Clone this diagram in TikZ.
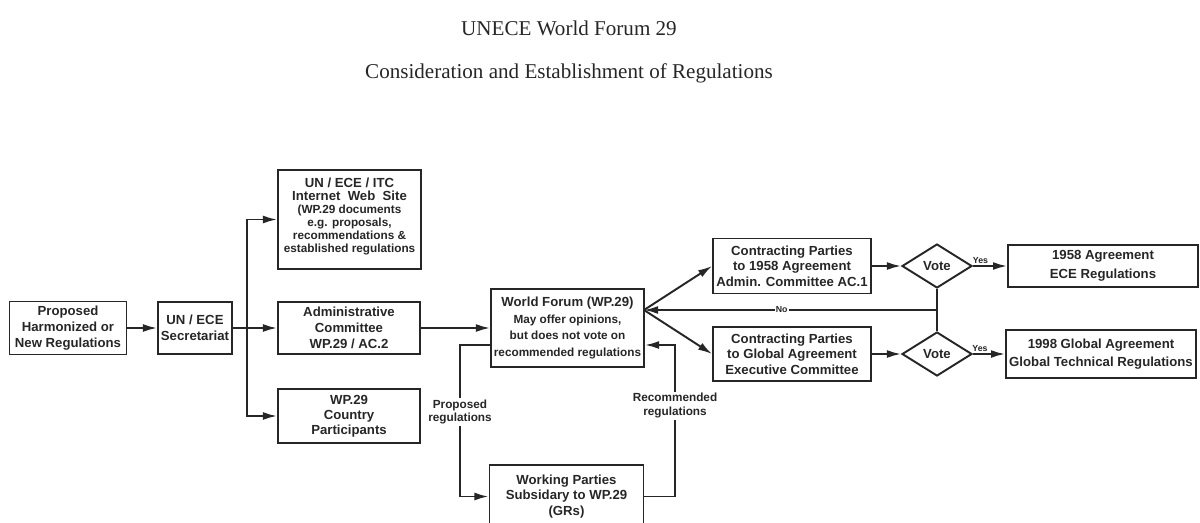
\documentclass[tikz,border=0pt]{standalone}
\usepackage{fontspec}
\setmainfont{Liberation Serif}
\setsansfont{Liberation Sans}
\usepackage{tikz}
\usetikzlibrary{arrows.meta,positioning,shapes.geometric}
\tikzset{>=latex}
\usepackage{xcolor}
\colorlet{myink}{black!85}
\newcommand{\subtxt}{\fontsize{6.7}{7.2}\selectfont}
\tikzstyle{box}=[draw=myink,line width=1.1pt,align=center,inner sep=1pt,text=myink,font=\sffamily\bfseries\fontsize{7.5}{9}\selectfont]
\tikzstyle{vote}=[box,diamond,aspect=1.6,minimum width=1.4cm,minimum height=0.88cm,inner sep=0.5pt]
\tikzstyle{flow}=[-{Latex[length=8,width=4.5]},line width=1.1pt,myink]
\tikzstyle{lbl}=[text=myink,align=center,font=\sffamily\bfseries\fontsize{6.7}{7.6}\selectfont,fill=white,inner sep=1pt]
\tikzstyle{tag}=[text=myink,font=\sffamily\bfseries\fontsize{5}{6}\selectfont,inner sep=0.6pt]
\tikzstyle{title}=[text=myink,font=\fontsize{12}{14}\selectfont]

\begin{document}
\begin{tikzpicture}[x=0.02cm,y=-0.02cm]
  \useasboundingbox (0,0) rectangle (1200,522);
  \node[title] (t1) at (569,28) {UNECE World Forum 29};
  \node[title] (t2) at (569,73) {Consideration and Establishment of Regulations};

  % left column
  \node[box,minimum width=2.34cm,minimum height=1.06cm] (prop) at (68,328) {Proposed\\Harmonized or\\New Regulations};
  \node[box,minimum width=1.48cm,minimum height=1.04cm] (sec) at (195,328) {UN / ECE\\Secretariat};
  \node[box,minimum width=2.86cm,minimum height=1.98cm,font=\sffamily\bfseries\fontsize{7.5}{7.4}\selectfont] (web) at (349.5,219.5)
    {UN / ECE / ITC\\Internet\ \ Web\ \ Site\\\subtxt(WP.29 documents\\\subtxt e.g. proposals,\\\subtxt recommendations \&\\\subtxt established regulations\\[-2.7pt]};
  \node[box,minimum width=2.84cm,minimum height=1.04cm] (admin) at (349,328) {Administrative\\Committee\\WP.29 / AC.2};
  \node[box,minimum width=2.84cm,minimum height=1.08cm,font=\sffamily\bfseries\fontsize{7.5}{8.5}\selectfont] (country) at (349,416) {WP.29\\Country\\Participants};

  \draw[flow] (prop) -- (sec);
  \draw[flow] (sec) -- (admin);
  \coordinate (br) at (247,328);
  \draw[flow] (br) |- (web.west);
  \draw[flow] (br) |- (country.west);

  % world forum and working parties
  \node[box,minimum width=3.06cm,minimum height=1.56cm,font=\sffamily\bfseries\fontsize{7.5}{9.6}\selectfont] (wf) at (567.5,328)
    {World Forum (WP.29)\\\subtxt May offer opinions,\\\subtxt but does not vote on\\\subtxt recommended regulations};
  \node[box,minimum width=3.08cm,minimum height=1.26cm] (wp) at (566.5,496.5) {Working Parties\\Subsidary to WP.29\\(GRs)};

  \draw[flow] (admin) -- (wf);
  \coordinate (pl) at (460,345);
  \coordinate (rl) at (675,345);
  \draw[flow] (wf.west |- pl) -- (pl) -- node[lbl,pos=0.44]{Proposed\\regulations} (pl |- wp.west) -- (wp.west);
  \draw[flow] (wp.east) -- (rl |- wp.east) -- node[lbl,pos=0.6]{Recommended\\regulations} (rl) -- (wf.east |- rl);

  % agreements
  \coordinate (hub) at (644,310);
  \node[box,minimum width=3.16cm,minimum height=1.1cm,font=\sffamily\bfseries\fontsize{7.5}{8.8}\selectfont] (cp58) at (792,266)
    {Contracting Parties\\to 1958 Agreement\\Admin. Committee AC.1};
  \node[box,minimum width=3.16cm,minimum height=1.08cm,font=\sffamily\bfseries\fontsize{7.5}{8.8}\selectfont] (cpg) at (792,354)
    {Contracting Parties\\to Global Agreement\\Executive Committee};
  \node[vote] (vote1) at (937,266) {Vote};
  \node[vote] (vote2) at (937,354) {Vote};
  \node[box,minimum width=3.8cm,minimum height=0.84cm,font=\sffamily\bfseries\fontsize{7.5}{10.5}\selectfont] (agr58) at (1103,266)
    {1958 Agreement\\ECE Regulations};
  \node[box,minimum width=3.8cm,minimum height=0.96cm,font=\sffamily\bfseries\fontsize{7.5}{10}\selectfont] (agr98) at (1101,354)
    {1998 Global Agreement\\Global Technical Regulations};

  \draw[flow] (hub) -- (cp58.west);
  \draw[flow] (hub) -- (cpg.west);
  \draw[flow] (cp58) -- (vote1);
  \draw[flow] (cpg) -- (vote2);
  \draw[flow] (vote1) -- node[tag,above,pos=0.22]{Yes} (agr58);
  \draw[flow] (vote2) -- node[tag,above,pos=0.22]{Yes} (agr98);
  \draw[line width=1.1pt,myink] (vote1.south) -- (vote2.north);
  \draw[flow] (vote1.south |- hub) -- node[tag,fill=white,pos=0.53]{No} (hub);
\end{tikzpicture}
\end{document}
